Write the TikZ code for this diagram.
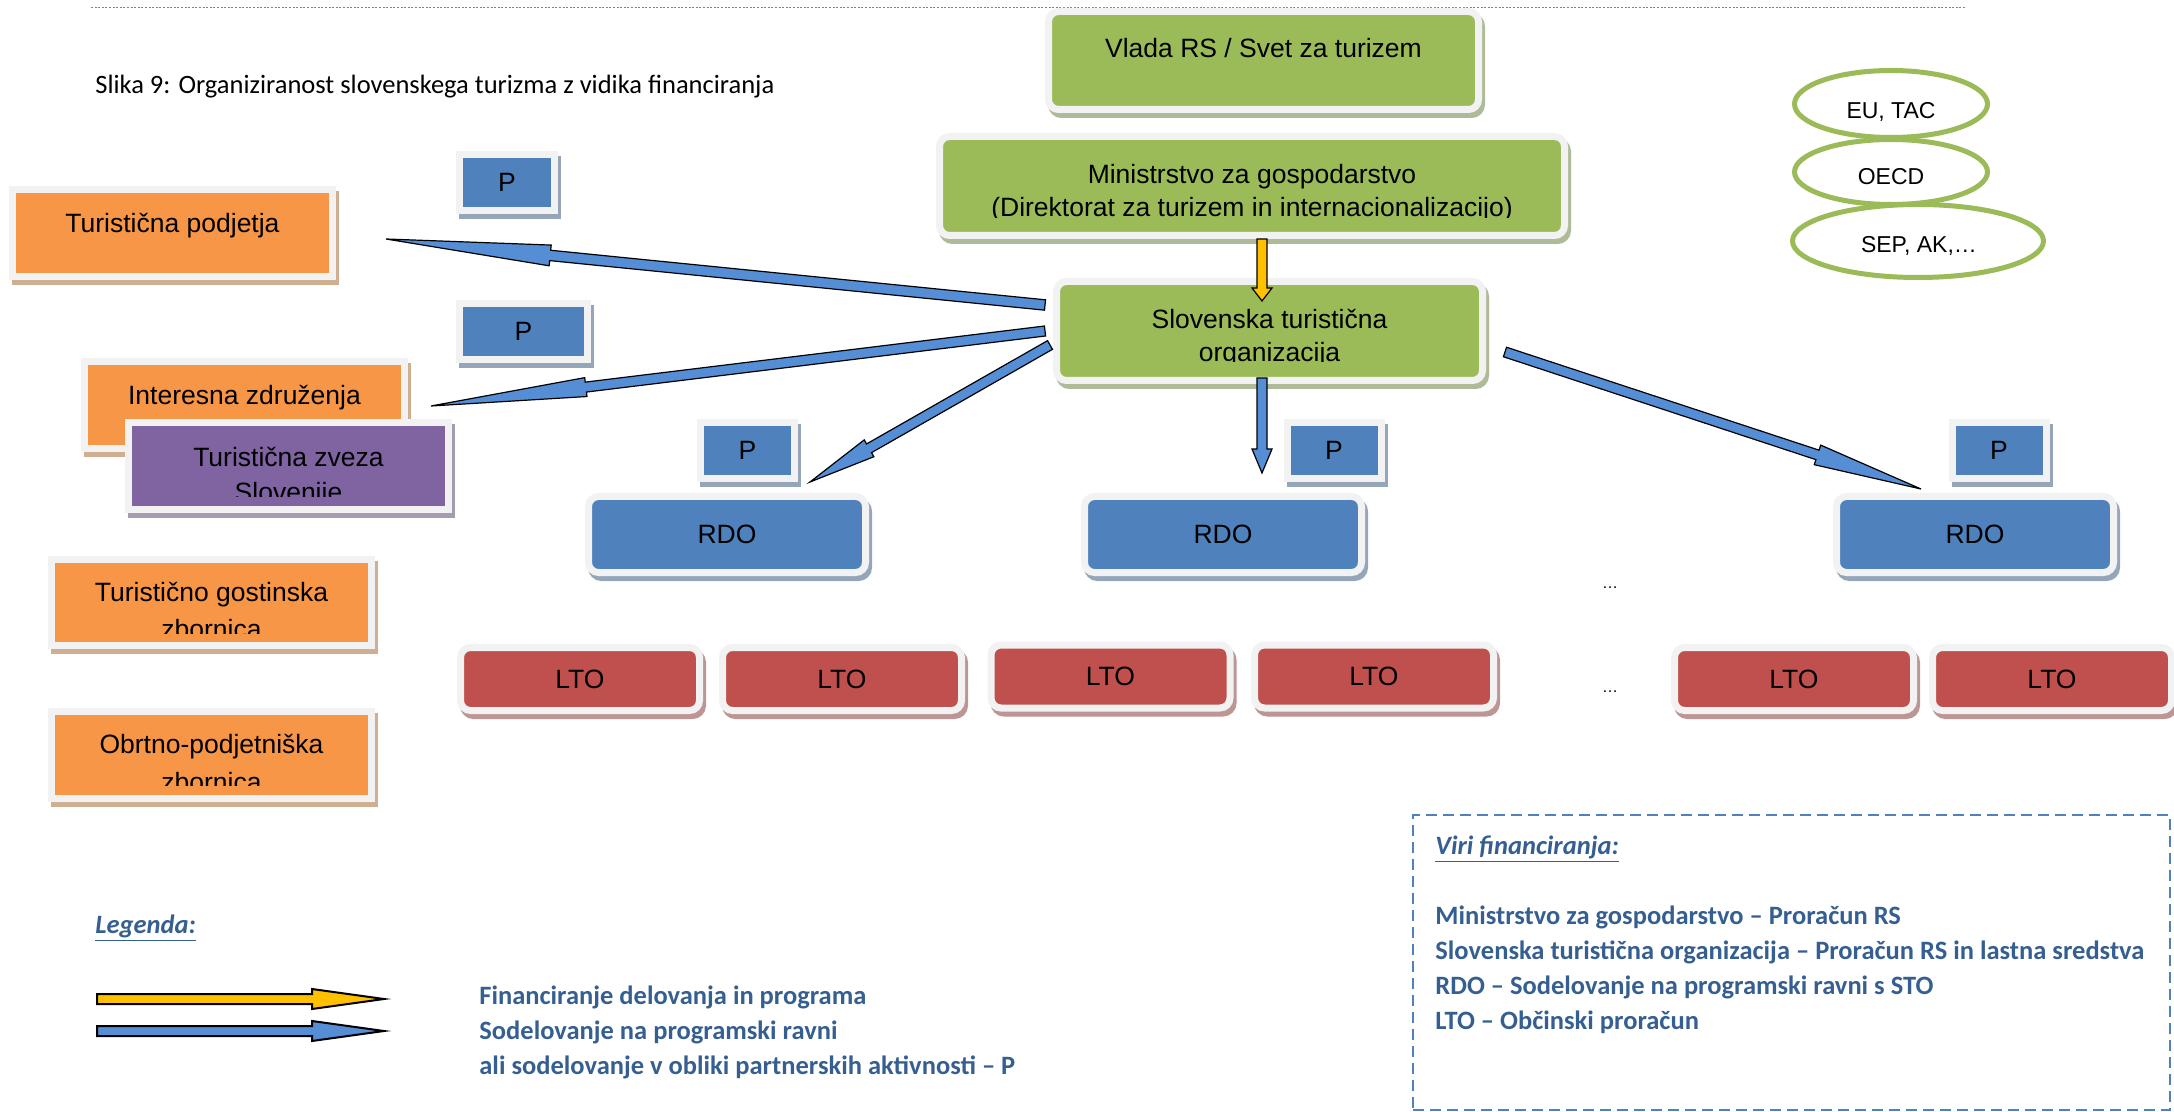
\documentclass[tikz,border=0pt]{standalone}
\usepackage{fontspec}
\setmainfont{Liberation Sans}
\newfontfamily\calibri{Carlito}
\usetikzlibrary{calc,shapes.geometric}

\definecolor{boxgreen}{HTML}{9BBB59}
\definecolor{boxblue}{HTML}{4F81BD}
\definecolor{boxred}{HTML}{C0504D}
\definecolor{boxorange}{HTML}{F79646}
\definecolor{boxpurple}{HTML}{8064A2}
\definecolor{rim}{HTML}{F2F2F2}
\definecolor{arrowblue}{HTML}{558ED5}
\definecolor{arrowyellow}{HTML}{FFC000}
\definecolor{noteblue}{HTML}{365F91}
\definecolor{frameblue}{HTML}{4F81BD}

\newcommand{\boxfont}{\fontsize{13.25}{16.75}\selectfont}
\newcommand{\notefont}{\calibri\bfseries\fontsize{13.25}{17.5}\selectfont}

\tikzset{
  orgbox/.style={rectangle, fill=#1, draw=rim, line width=3.5pt, inner sep=0pt, outer sep=0pt, font=\boxfont},
  boxshadow/.style={preaction={fill=#1!50!gray!70!white, draw=#1!50!gray!70!white,
      line width=3.5pt, transform canvas={xshift=1.5pt, yshift=-2.5pt}}},
  greenbox/.style={orgbox=boxgreen, rounded corners=5pt, boxshadow=boxgreen},
  rdobox/.style={orgbox=boxblue, rounded corners=5pt, boxshadow=boxblue,
      minimum width=138.5pt, minimum height=38pt},
  ltobox/.style={orgbox=boxred, rounded corners=5pt, boxshadow=boxred,
      minimum width=119.5pt, minimum height=31.5pt},
  pbox/.style={orgbox=boxblue, boxshadow=boxblue, minimum height=28pt},
  sidebox/.style={orgbox=#1, boxshadow=#1, minimum width=160pt, minimum height=43.5pt},
  lbl/.style={inner sep=0pt, align=center, font=\boxfont},
  orgoval/.style={ellipse, draw=boxgreen, line width=2.5pt, fill=white, inner sep=0pt},
  ovaltext/.style={inner sep=0pt, font=\fontsize{11.5}{13}\selectfont},
  notetext/.style={inner sep=0pt, text=noteblue, font=\notefont},
  fat arrow/.style n args={4}{fill=#1, draw=black, line width=0.6pt,
    to path={($(\tikztostart)!#2!90:(\tikztotarget)$)
      -- ($($(\tikztotarget)!#4!(\tikztostart)$)!#2!90:(\tikztotarget)$)
      -- ($($(\tikztotarget)!#4!(\tikztostart)$)!#3!90:(\tikztotarget)$)
      -- (\tikztotarget)
      -- ($($(\tikztotarget)!#4!(\tikztostart)$)!#3!-90:(\tikztotarget)$)
      -- ($($(\tikztotarget)!#4!(\tikztostart)$)!#2!-90:(\tikztotarget)$)
      -- ($(\tikztostart)!#2!-90:(\tikztotarget)$) -- cycle}},
}

\begin{document}
\begin{tikzpicture}[x=0.5pt, y=-0.5pt]
\useasboundingbox (0,0) rectangle (2174,1112);

\draw[gray, line width=0.4pt, dash pattern=on 1pt off 0.8pt] (91,7) -- (1966,7);
\node[inner sep=0pt, font=\calibri\fontsize{13.25}{16}\selectfont, anchor=base west] (caption) at (95,94)
  {Slika 9: Organiziranost slovenskega turizma z vidika financiranja};

% national level
\node[greenbox, minimum width=215pt, minimum height=49pt] (vlada) at (1263.5,60.5) {};
\node[greenbox, minimum width=312.5pt, minimum height=49.5pt] (minis) at (1252,186) {};
\node[greenbox, minimum width=213pt, minimum height=49.5pt] (sto) at (1269.5,331) {};
\node[lbl, anchor=north] (vlada-t) at (1263.5,38) {Vlada RS / Svet za turizem};
\begin{scope}
  \clip (minis.north west) rectangle ([yshift=8.75pt]minis.south east);
  \node[lbl, anchor=north] (minis-t) at (1252,163.5)
    {Ministrstvo za gospodarstvo\\(Direktorat za turizem in internacionalizacijo)};
\end{scope}
\begin{scope}
  \clip (sto.north west) rectangle ([yshift=9.25pt]sto.south east);
  \node[lbl, anchor=north] (sto-t) at (1269.5,308.5) {Slovenska turistična\\organizacija};
\end{scope}

% partners
\node[sidebox=boxorange] (tp) at (172.5,233) {};
\node[lbl, anchor=north] (tp-t) at (172.5,213) {Turistična podjetja};
\node[sidebox=boxorange] (iz) at (244.5,405) {};
\node[lbl, anchor=north] (iz-t) at (244.5,385) {Interesna združenja};
\node[sidebox=boxpurple] (tzs) at (288.5,466) {};
\begin{scope}
  \clip (tzs.north west) rectangle ([yshift=6.25pt]tzs.south east);
  \node[lbl, anchor=north, font=\fontsize{13.25}{17.5}\selectfont] (tzs-t) at (288.5,447)
    {Turistična zveza\\Slovenije};
\end{scope}
\node[sidebox=boxorange, minimum height=43pt] (tgz) at (211.5,602.5) {};
\begin{scope}
  \clip (tgz.north west) rectangle ([yshift=6.1pt]tgz.south east);
  \node[lbl, anchor=north, font=\fontsize{13.25}{18.35}\selectfont] (tgz-t) at (211.5,582)
    {Turistično gostinska\\zbornica};
\end{scope}
\node[sidebox=boxorange] (opz) at (211.5,755) {};
\begin{scope}
  \clip (opz.north west) rectangle ([yshift=6.75pt]opz.south east);
  \node[lbl, anchor=north, font=\fontsize{13.25}{19}\selectfont] (opz-t) at (211.5,734)
    {Obrtno-podjetniška\\zbornica};
\end{scope}

% P markers, RDO and LTO
\node[pbox, minimum width=47.5pt] (p1) at (507,182.5) {P};
\node[pbox, minimum width=64pt] (p2) at (523.5,331.5) {P};
\foreach \i/\x in {3/747.5, 4/1334, 5/1999}
  \node[pbox, minimum width=47pt] (p\i) at (\x,450.5) {P};
\foreach \i/\x in {1/727, 2/1223, 3/1975}
  \node[rdobox] (rdo\i) at (\x,534.5) {RDO};
\foreach \i/\x/\y in {1/580/679, 2/842/679, 3/1110.5/676.5, 4/1374/676.5, 5/1794/679, 6/2052/679}
  \node[ltobox] (lto\i) at (\x,\y) {LTO};
\node[inner sep=0pt, font=\fontsize{8}{9}\selectfont, anchor=base] (dots1) at (1610,588) {…};
\node[inner sep=0pt, font=\fontsize{8}{9}\selectfont, anchor=base] (dots2) at (1610,692) {…};

% international
\node[orgoval, minimum width=96.5pt, minimum height=33.5pt] (eu) at (1891,104) {};
\node[orgoval, minimum width=96.5pt, minimum height=32.5pt] (oecd) at (1891,172) {};
\node[orgoval, minimum width=125.5pt, minimum height=36.5pt] (sep) at (1918,241) {};
\node[ovaltext, anchor=base] (eu-t) at (1891,119) {EU, TAC};
\node[ovaltext, anchor=base] (oecd-t) at (1891,185) {OECD};
\node[ovaltext, anchor=base] (sep-t) at (1919,253) {SEP, AK,…};

% arrows
\coordinate (minis-out) at (1262,239);
\coordinate (sto-in) at (1262,301);
\coordinate (sto-w1) at (1045,305);
\coordinate (sto-w2) at (1045,331);
\coordinate (sto-w3) at (1050,345);
\coordinate (sto-s) at (1262,378);
\coordinate (sto-e) at (1505,352);
\coordinate (tp-in) at (386,239);
\coordinate (iz-in) at (431,406);
\coordinate (rdo1-in) at (810,482);
\coordinate (rdo2-in) at (1262,473);
\coordinate (rdo3-in) at (1921,489);
\draw[fat arrow={arrowyellow}{2.5pt}{5pt}{6.5pt}] (minis-out) to (sto-in);
\draw[fat arrow={arrowblue}{2.6pt}{5.2pt}{82.5pt}] (sto-w1) to (tp-in);
\draw[fat arrow={arrowblue}{2.5pt}{4.75pt}{78pt}] (sto-w2) to (iz-in);
\draw[fat arrow={arrowblue}{2.5pt}{4.85pt}{34pt}] (sto-w3) to (rdo1-in);
\draw[fat arrow={arrowblue}{2.5pt}{5pt}{12pt}] (sto-s) to (rdo2-in);
\draw[fat arrow={arrowblue}{2.5pt}{5.15pt}{54.5pt}] (sto-e) to (rdo3-in);

% legend
\node[notetext, anchor=base west] (leg-head) at (95,933) {\itshape\underline{Legenda:}};
\coordinate (leg-a0) at (97,999);
\coordinate (leg-a1) at (384,999);
\coordinate (leg-b0) at (97,1031);
\coordinate (leg-b1) at (384,1031);
\draw[fat arrow={arrowyellow}{2.5pt}{5pt}{36pt}, line width=1pt] (leg-a0) to (leg-a1);
\draw[fat arrow={arrowblue}{2.5pt}{5pt}{36pt}, line width=1pt] (leg-b0) to (leg-b1);
\node[notetext, anchor=north west, align=left] (leg-t) at (479,985)
  {Financiranje delovanja in programa\\Sodelovanje na programski ravni\\ali sodelovanje v obliki partnerskih aktivnosti – P};

% sources of funding
\node[draw=frameblue, line width=1pt, dash pattern=on 5.5pt off 3pt, inner sep=0pt,
  minimum width=378.5pt, minimum height=147.5pt] (viri) at (1791.5,962.5) {};
\node[notetext, anchor=north west, align=left] (viri-t) at (1435,835)
  {\itshape\underline{Viri financiranja:}\\[17.5pt]
   Ministrstvo za gospodarstvo – Proračun RS\\
   Slovenska turistična organizacija – Proračun RS in lastna sredstva\\
   RDO – Sodelovanje na programski ravni s STO\\
   LTO – Občinski proračun};
\end{tikzpicture}
\end{document}
